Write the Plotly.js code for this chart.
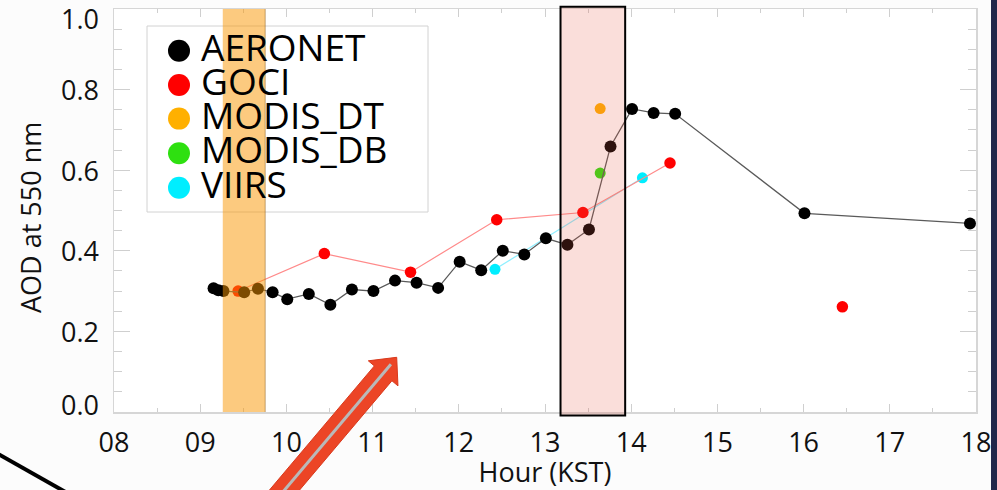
<!DOCTYPE html>
<html>
<head>
<meta charset="utf-8">
<script src="https://cdn.plot.ly/plotly-3.0.1.min.js"></script>
<style>
  html, body { margin: 0; padding: 0; background: #fcfcfc; }
  #chart { width: 997px; height: 490px; }
</style>
</head>
<body>
<div id="chart"></div>
<script>
// AOD at 550 nm through the day (hour, KST)
const aeronetHour = [9.155, 9.21, 9.27, 9.51, 9.67, 9.84, 10.01, 10.26, 10.51, 10.76, 11.01, 11.26, 11.51, 11.76,
                     12.01, 12.26, 12.51, 12.76, 13.01, 13.26, 13.51, 13.76, 14.01, 14.26, 14.51, 16.01, 17.93];
const aeronetAod  = [0.307, 0.302, 0.300, 0.297, 0.306, 0.297, 0.280, 0.293, 0.266, 0.304, 0.300, 0.326, 0.321, 0.308,
                     0.373, 0.352, 0.400, 0.391, 0.431, 0.415, 0.453, 0.659, 0.752, 0.742, 0.740, 0.493, 0.468];

// GOCI hourly retrievals (null breaks the line before the late-afternoon scene)
const gociHour = [9.44, 10.44, 11.44, 12.44, 13.44, 14.45, null, 16.45];
const gociAod  = [0.300, 0.393, 0.347, 0.477, 0.495, 0.618, null, 0.261];

const modisDtHour = [13.64];
const modisDtAod  = [0.753];
const modisDbHour = [13.64];
const modisDbAod  = [0.593];
const viirsHour = [12.42, 14.13];
const viirsAod  = [0.354, 0.581];

const seriesNames  = ['AERONET', 'GOCI', 'MODIS_DT', 'MODIS_DB', 'VIIRS'];
const seriesColors = ['#000000', '#ff0000', '#ffb000', '#2ee010', '#00eeff'];

const xTickVals = [8, 9, 10, 11, 12, 13, 14, 15, 16, 17, 18];
const xTickText = ['08', '09', '10', '11', '12', '13', '14', '15', '16', '17', '18'];
const yTickVals = [0, 0.2, 0.4, 0.6, 0.8, 1.0];
const yTickText = ['0.0', '0.2', '0.4', '0.6', '0.8', '1.0'];

// Overpass windows (hours)
const morningWindow   = [9.262, 9.754];
const afternoonWindow = [13.18, 13.93];

// ---- figure geometry ----
const W = 997, H = 490;
const M = { l: 114, r: 21, t: 9, b: 78 };
const PW = W - M.l - M.r, PH = H - M.t - M.b;
const px = x => (x - M.l) / PW;          // page pixel -> paper x
const py = y => (M.t + PH - y) / PH;     // page pixel -> paper y
const FONT = '"Open Sans", "Noto Sans", sans-serif';

const traces = [
  { name: 'VIIRS', x: viirsHour, y: viirsAod, mode: 'lines+markers',
    line: { color: '#8fefff', width: 1.2 },
    marker: { color: seriesColors[4], size: 11 } },
  { name: 'GOCI', x: gociHour, y: gociAod, mode: 'lines+markers', connectgaps: false,
    line: { color: '#ff8a8a', width: 1.2 },
    marker: { color: seriesColors[1], size: 11.5 } },
  { name: 'MODIS_DT', x: modisDtHour, y: modisDtAod, mode: 'markers',
    marker: { color: seriesColors[2], size: 11 } },
  { name: 'MODIS_DB', x: modisDbHour, y: modisDbAod, mode: 'markers',
    marker: { color: seriesColors[3], size: 11 } },
  { name: 'AERONET', x: aeronetHour, y: aeronetAod, mode: 'lines+markers',
    line: { color: '#5a5a5a', width: 1.3 },
    marker: { color: seriesColors[0], size: 12 } }
].map(t => Object.assign(t, { type: 'scatter', showlegend: false, hoverinfo: 'x+y+name' }));

const shapes = [];
const annotations = [];

// y tick labels: end labels are nudged inside the frame
yTickVals.forEach((v, i) => {
  const shift = i === 0 ? 8 : (i === yTickVals.length - 1 ? -9 : 0);
  annotations.push({ xref: 'paper', yref: 'y', x: px(101), y: v, yshift: shift,
    xanchor: 'right', yanchor: 'middle', showarrow: false, text: yTickText[i],
    font: { family: FONT, size: 27, color: '#111' } });
});

// y axis title
annotations.push({ xref: 'paper', yref: 'paper', x: px(30), y: py(218), textangle: -90,
  xanchor: 'center', yanchor: 'middle', showarrow: false, text: 'AOD at 550 nm',
  font: { family: FONT, size: 27, color: '#111' } });

// legend box
shapes.push({ type: 'rect', xref: 'paper', yref: 'paper', layer: 'below',
  x0: px(147), x1: px(428), y0: py(212), y1: py(26),
  line: { color: '#d2d2d2', width: 1 }, fillcolor: 'rgba(0,0,0,0)' });

const rowY = [50.7, 85, 118.6, 153.2, 187.7];
seriesNames.forEach((name, i) => {
  shapes.push({ type: 'circle', xref: 'paper', yref: 'paper',
    xsizemode: 'pixel', ysizemode: 'pixel',
    xanchor: px(179), yanchor: py(rowY[i]),
    x0: -11, x1: 11, y0: -11, y1: 11,
    fillcolor: seriesColors[i], line: { width: 0 } });
  annotations.push({ xref: 'paper', yref: 'paper', x: px(199), y: py(rowY[i] - 4.5),
    xanchor: 'left', yanchor: 'middle', showarrow: false, text: name,
    font: { family: FONT, size: 37, color: '#000' } });
});

// morning overpass window
shapes.push({ type: 'rect', xref: 'x', yref: 'y', layer: 'above',
  x0: morningWindow[0], x1: morningWindow[1], y0: 0, y1: 1,
  fillcolor: 'rgba(249,150,0,0.5)', line: { width: 0 } });
shapes.push({ type: 'line', xref: 'x', yref: 'y', layer: 'above',
  x0: morningWindow[1], x1: morningWindow[1], y0: 0, y1: 1,
  line: { color: 'rgba(150,100,40,0.55)', width: 1 } });

// afternoon overpass window
shapes.push({ type: 'rect', xref: 'x', yref: 'paper', layer: 'above',
  x0: afternoonWindow[0], x1: afternoonWindow[1], y0: py(415.5), y1: py(6.8),
  fillcolor: 'rgba(230,90,70,0.2)', line: { color: '#000', width: 2 } });

// slide decorations: arrow, corner line, dark edge
(function () {
  const tip = [396.7, 357.3];
  const u = [0.6455, -0.7638], n = [0.7638, 0.6455];
  const at = (t, s) => [tip[0] - u[0] * t + n[0] * s, tip[1] - u[1] * t + n[1] * s];
  const pts = [at(0, 0), at(21, 19.4), at(21, 11.5), at(200, 11.5), at(200, -11.5), at(21, -11.5), at(21, -19.4)];
  const path = 'M ' + pts.map(p => px(p[0]) + ',' + py(p[1])).join(' L ') + ' Z';
  shapes.push({ type: 'path', xref: 'paper', yref: 'paper', layer: 'above', path,
    fillcolor: '#ec4526', line: { color: '#d8391c', width: 1 } });
  const a = at(9, 0), b = at(200, 0);
  shapes.push({ type: 'line', xref: 'paper', yref: 'paper', layer: 'above',
    x0: px(a[0]), y0: py(a[1]), x1: px(b[0]), y1: py(b[1]),
    line: { color: '#b9b9b9', width: 3 } });
})();

shapes.push({ type: 'line', xref: 'paper', yref: 'paper', layer: 'above',
  x0: px(-10), y0: py(449.4), x1: px(80), y1: py(500.2),
  line: { color: '#000', width: 4 } });

shapes.push({ type: 'rect', xref: 'paper', yref: 'paper', layer: 'above',
  x0: px(991), x1: px(1005), y0: py(-10), y1: py(500),
  fillcolor: '#22274a', line: { width: 0 } });

const axisCommon = {
  showline: true, linecolor: '#d6d6d6', linewidth: 1.5, mirror: 'ticks',
  ticks: 'inside', tickcolor: '#cfcfcf', tickwidth: 1,
  showgrid: false, zeroline: false,
  tickfont: { family: FONT, size: 27, color: '#111' }
};

const layout = {
  width: W, height: H, margin: Object.assign({ pad: 0 }, M),
  paper_bgcolor: '#fcfcfc', plot_bgcolor: '#ffffff',
  font: { family: FONT, color: '#111' },
  showlegend: false,
  xaxis: Object.assign({}, axisCommon, {
    range: [8, 18], tickmode: 'array', tickvals: xTickVals, ticktext: xTickText,
    ticklen: 8, ticklabelstandoff: 6,
    minor: { tickmode: 'linear', tick0: 8, dtick: 0.5, ticklen: 4, ticks: 'inside', tickcolor: '#cfcfcf' },
    title: { text: 'Hour (KST)', font: { family: FONT, size: 27, color: '#111' }, standoff: 4 }
  }),
  yaxis: Object.assign({}, axisCommon, {
    range: [0, 1], tickmode: 'array', tickvals: yTickVals, showticklabels: false,
    ticklen: 16,
    minor: { tickmode: 'linear', tick0: 0, dtick: 0.05, ticklen: 8, ticks: 'inside', tickcolor: '#cfcfcf' }
  }),
  shapes, annotations
};

Plotly.newPlot('chart', traces, layout, { displayModeBar: false, staticPlot: true });
</script>
</body>
</html>
